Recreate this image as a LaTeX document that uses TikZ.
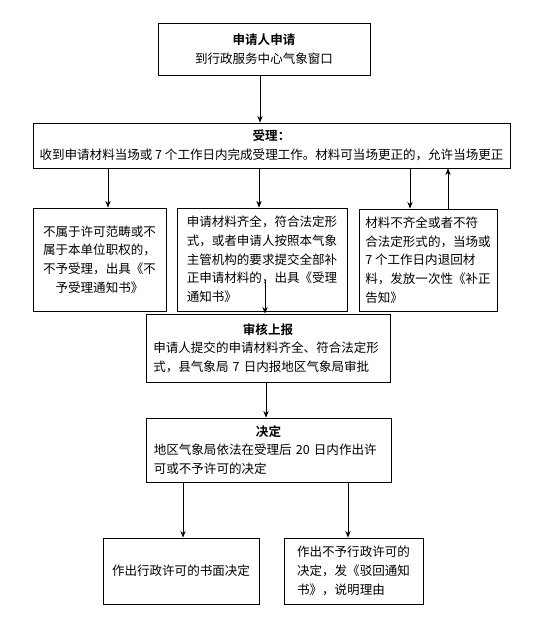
\documentclass[tikz,border=0pt]{standalone}
\usepackage{fontspec}
\setmainfont{Noto Sans CJK SC}[BoldFont={Noto Sans CJK SC Bold}]
\usetikzlibrary{arrows.meta,calc}

\begin{document}
\begin{tikzpicture}[x=0.75pt,y=-0.75pt,
    box/.style={draw,line width=0.6pt,inner sep=2pt,font=\fontsize{9.4}{14}\selectfont},
    arr/.style={-{Stealth[length=5pt,width=4pt]},line width=0.6pt}]
    \useasboundingbox (0,0) rectangle (536,627);
    % Boxes
    \node[box,minimum width=159pt,minimum height=39pt,align=center] (apply) at (264,49)
        {\textbf{申请人申请}\\到行政服务中心气象窗口};
    \node[box,minimum width=357.75pt,minimum height=33.75pt,align=center] (accept) at (271.5,145.5)
        {\textbf{受理：}\\收到申请材料当场或 7 个工作日内完成受理工作。材料可当场更正的，允许当场更正};
    \node[box,minimum width=99.75pt,minimum height=77.25pt,align=center] (reject) at (99.5,259.5)
        {不属于许可范畴或不\\属于本单位职权的，\\不予受理，出具《不\\予受理通知书》};
    \node[box,minimum width=127.5pt,minimum height=77.25pt,align=left] (mid) at (262,259.5)
        {申请材料齐全，符合法定形\\式，或者申请人按照本气象\\主管机构的要求提交全部补\\正申请材料的，出具《受理\\通知书》};
    \node[box,minimum width=103.5pt,minimum height=76.5pt,align=left] (fix) at (428,260)
        {材料不齐全或者不符\\合法定形式的，当场或\\7 个工作日内退回材\\料，发放一次性《补正\\告知》};
    \node[box,minimum width=183pt,minimum height=51pt,text width=172pt,align=left] (review) at (268,348)
        {\hfill\textbf{审核上报}\hfill\mbox{}\\申请人提交的申请材料齐全、符合法定形\\式，县气象局 7 日内报地区气象局审批};
    \node[box,minimum width=183.75pt,minimum height=48pt,text width=172pt,align=left] (decide) at (268.5,450)
        {\hfill\textbf{决定}\hfill\mbox{}\\地区气象局依法在受理后 20 日内作出许\\可或不予许可的决定};
    \node[box,minimum width=117pt,minimum height=49.5pt] (grant) at (181,571)
        {作出行政许可的书面决定};
    \node[box,minimum width=104.25pt,minimum height=49.5pt,align=left] (deny) at (353.5,571)
        {作出不予行政许可的\\决定，发《驳回通知\\书》，说明理由};
    % Arrows
    \draw[arr] (apply.south -| 260,0) -- (accept.north -| 260,0);
    \draw[arr] (accept.south -| 108,0) -- (reject.north -| 108,0);
    \draw[arr] (accept.south -| 259,0) -- (mid.north -| 259,0);
    \draw[arr] (accept.south -| 410,0) -- (fix.north -| 410,0);
    \draw[arr] (fix.north -| 448,0) -- (accept.south -| 448,0);
    \draw[arr] ($(mid.south -| 265,0)+(0,-30)$) -- (review.north -| 265,0);
    \draw[arr] (review.south -| 266,0) -- (decide.north -| 266,0);
    \draw[arr] (decide.south -| 183,0) -- (grant.north -| 183,0);
    \draw[arr] (decide.south -| 348,0) -- (deny.north -| 348,0);
\end{tikzpicture}
\end{document}
